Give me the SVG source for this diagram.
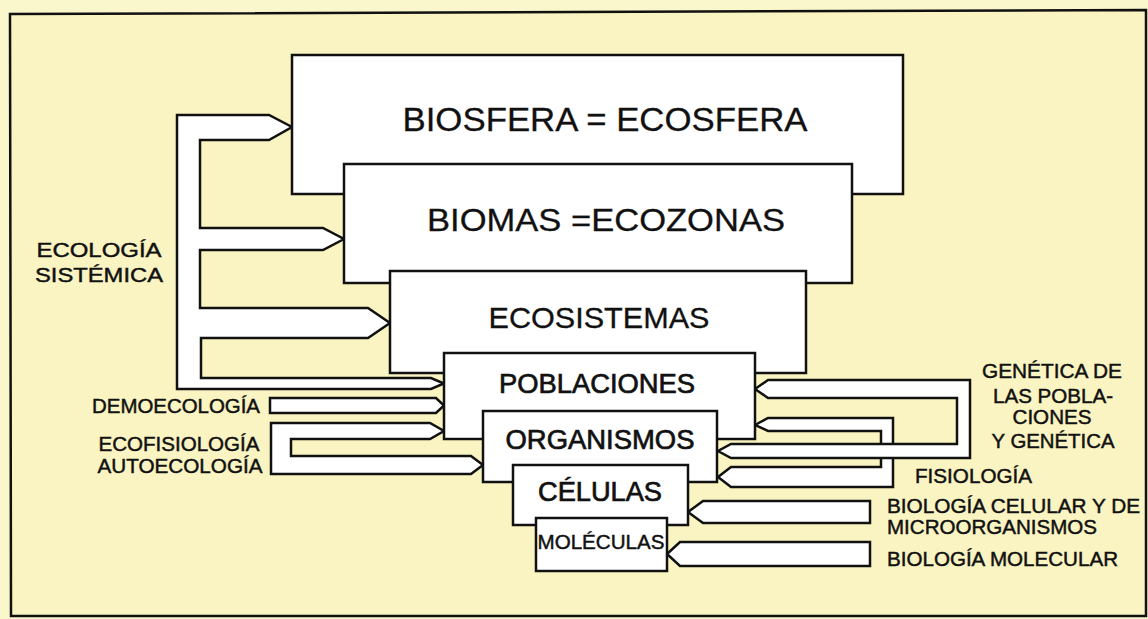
<svg xmlns="http://www.w3.org/2000/svg" width="1148" height="619" viewBox="0 0 1148 619">
<style>
.box{fill:#ffffff;stroke:#111;stroke-width:2.5;stroke-linejoin:miter}
.arr{fill:#ffffff;stroke:#111;stroke-width:2.5;stroke-linejoin:miter}
.t{font-family:"Liberation Sans",Arial,sans-serif;fill:#111}
.big{font-size:33px;stroke:#111;stroke-width:0.3}
.mid{font-size:27px;stroke:#111;stroke-width:0.7}
.lab{font-size:19.5px;stroke:#111;stroke-width:0.45}
</style>
<rect x="0" y="0" width="1148" height="619" fill="#fbf7cc"/>
<path d="M10,14 L1146,10 L1146,616 L11,616 Z" fill="#faf4c2" stroke="#111" stroke-width="2.5"/>

<g id="connectors">
  <path id="c-sistemica" class="arr" d="M177,115 L269,115 L292,127 L269,140 L200,140 L200,228 L323,228 L344,239 L323,250 L200,250 L200,308 L368,308 L390,323 L368,338 L201,338 L201,378 L431,378 L444,383.5 L431,389 L177,389 Z"/>
  <path id="c-demo" class="arr" d="M270,398 L436,398 L444,405.5 L436,413 L270,413 Z"/>
  <path id="c-auto" class="arr" d="M271,423 L430,423 L444,431 L430,439 L291,439 L291,456 L471,456 L483,465 L471,474 L271,474 Z"/>
  <path id="c-fisio" class="arr" d="M755,425 L768,418 L893,418 L893,487 L731,487 L718,477 L731,467 L881,467 L881,431 L768,431 Z"/>
  <path id="c-genet" class="arr" d="M755,389 L768,380 L970,380 L970,458 L731,458 L718,451 L731,444 L957,444 L957,398 L768,398 Z"/>
  <path id="c-cel" class="arr" d="M688,512 L703,501 L870,501 L870,523 L703,523 Z"/>
  <path id="c-mol" class="arr" d="M667,554 L680,542 L870,542 L870,566 L680,566 Z"/>
</g>

<g id="biosfera">
  <rect class="box" x="292" y="55" width="611" height="139"/>
  <text class="t big" x="605" y="131" text-anchor="middle" textLength="405" lengthAdjust="spacingAndGlyphs">BIOSFERA = ECOSFERA</text>
</g>
<g id="biomas">
  <rect class="box" x="344" y="164" width="508" height="119"/>
  <text class="t big" font-size="32" x="606" y="231" text-anchor="middle" textLength="358" lengthAdjust="spacingAndGlyphs" style="font-size:32px">BIOMAS =ECOZONAS</text>
</g>
<g id="ecosistemas">
  <rect class="box" x="390" y="271" width="416" height="102"/>
  <text class="t big" x="599" y="328" text-anchor="middle" textLength="221" lengthAdjust="spacingAndGlyphs" style="font-size:30px">ECOSISTEMAS</text>
</g>
<g id="poblaciones">
  <rect class="box" x="444" y="353" width="311" height="86"/>
  <text class="t mid" x="597" y="393" text-anchor="middle" textLength="196" lengthAdjust="spacingAndGlyphs">POBLACIONES</text>
</g>
<g id="organismos">
  <rect class="box" x="483" y="411" width="234" height="71"/>
  <text class="t mid" x="600" y="449" text-anchor="middle" textLength="189" lengthAdjust="spacingAndGlyphs">ORGANISMOS</text>
</g>
<g id="celulas">
  <rect class="box" x="513" y="465" width="175" height="60"/>
  <text class="t mid" x="600" y="501" text-anchor="middle" textLength="124" lengthAdjust="spacingAndGlyphs">CÉLULAS</text>
</g>
<g id="moleculas">
  <rect class="box" x="536" y="518" width="131" height="53"/>
  <text class="t lab" x="601" y="549" text-anchor="middle" textLength="127" lengthAdjust="spacingAndGlyphs" style="font-size:20px">MOLÉCULAS</text>
</g>

<g id="labels">
  <text class="t lab" x="99" y="257" text-anchor="middle" textLength="125" lengthAdjust="spacingAndGlyphs" style="font-size:21px">ECOLOGÍA</text>
  <text class="t lab" x="99" y="282" text-anchor="middle" textLength="128" lengthAdjust="spacingAndGlyphs" style="font-size:21px">SISTÉMICA</text>
  <text class="t lab" x="176" y="413" text-anchor="middle" textLength="168" lengthAdjust="spacingAndGlyphs">DEMOECOLOGÍA</text>
  <text class="t lab" x="179" y="451" text-anchor="middle" textLength="161" lengthAdjust="spacingAndGlyphs">ECOFISIOLOGÍA</text>
  <text class="t lab" x="180" y="473" text-anchor="middle" textLength="165" lengthAdjust="spacingAndGlyphs">AUTOECOLOGÍA</text>
  <text class="t lab" x="1052" y="378" text-anchor="middle" textLength="140" lengthAdjust="spacingAndGlyphs">GENÉTICA DE</text>
  <text class="t lab" x="1053" y="403" text-anchor="middle" textLength="120" lengthAdjust="spacingAndGlyphs">LAS POBLA-</text>
  <text class="t lab" x="1052" y="424" text-anchor="middle" textLength="79" lengthAdjust="spacingAndGlyphs">CIONES</text>
  <text class="t lab" x="1053" y="448" text-anchor="middle" textLength="123" lengthAdjust="spacingAndGlyphs">Y GENÉTICA</text>
  <text class="t lab" x="915" y="483" textLength="117" lengthAdjust="spacingAndGlyphs">FISIOLOGÍA</text>
  <text class="t lab" x="887" y="513" textLength="253" lengthAdjust="spacingAndGlyphs">BIOLOGÍA CELULAR Y DE</text>
  <text class="t lab" x="887" y="534" textLength="210" lengthAdjust="spacingAndGlyphs">MICROORGANISMOS</text>
  <text class="t lab" x="887" y="566" textLength="231" lengthAdjust="spacingAndGlyphs">BIOLOGÍA MOLECULAR</text>
</g>
</svg>
